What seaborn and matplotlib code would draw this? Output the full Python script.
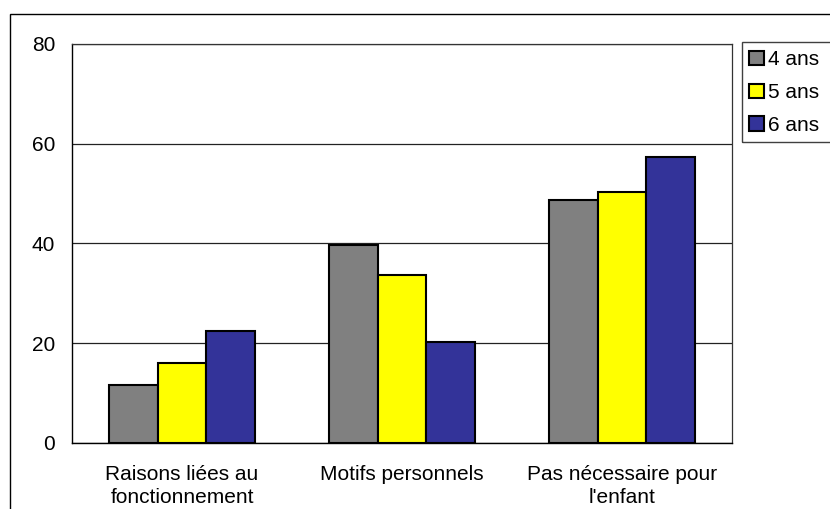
import matplotlib
matplotlib.use("Agg")
import matplotlib.pyplot as plt
from matplotlib.patches import Patch, Rectangle
import seaborn as sns
import pandas as pd

# Share of answers by reason and by child's age
categories = ["Raisons liées au\nfonctionnement", "Motifs personnels", "Pas nécessaire pour\nl'enfant"]
ages = ["4 ans", "5 ans", "6 ans"]
values_4 = [11.6, 39.7, 48.8]
values_5 = [16.1, 33.7, 50.4]
values_6 = [22.4, 20.3, 57.3]
y_ticks = [0, 20, 40, 60, 80]
colors = ["#808080", "#FFFF00", "#333399"]

df = pd.DataFrame({
    "categorie": categories * 3,
    "age": [a for a in ages for _ in categories],
    "valeur": values_4 + values_5 + values_6,
})

sns.set_style("white")
plt.rcParams["font.family"] = ["Liberation Sans", "DejaVu Sans"]
plt.rcParams["font.size"] = 15
plt.rcParams["text.color"] = "black"
plt.rcParams["xtick.color"] = "black"
plt.rcParams["ytick.color"] = "black"

fig = plt.figure(figsize=(8.3, 5.09), dpi=100)
ax = fig.add_axes([72 / 830, 1 - 443 / 509, 660 / 830, 399 / 509])

sns.barplot(
    data=df, x="categorie", y="valeur", hue="age", hue_order=ages,
    palette=colors, saturation=1, width=0.668, edgecolor="black",
    linewidth=1.5, legend=False, ax=ax,
)

ax.set_ylim(0, 80)
ax.set_xlim(-0.5, 2.5)
ax.set_yticks(y_ticks)
ax.set_xlabel("")
ax.set_ylabel("")
ax.yaxis.grid(True, color="#222222", linewidth=0.9)
ax.set_axisbelow(True)

# category boundary ticks on the x axis
ax.set_xticks([0, 1, 2])
ax.set_xticklabels(categories, fontsize=15, linespacing=1.25)
ax.set_xticks([-0.5, 0.5, 1.5, 2.5], minor=True)
ax.tick_params(axis="x", which="major", length=0, pad=16, labelcolor="black")
ax.tick_params(axis="x", which="minor", length=5, width=0.9, color="black")
ax.tick_params(axis="y", length=5, width=0.9, color="black", pad=7,
               labelsize=15, labelcolor="black")

for side in ["left", "bottom"]:
    ax.spines[side].set_color("black")
    ax.spines[side].set_linewidth(1.0)
for side in ["top", "right"]:
    ax.spines[side].set_visible(True)
    ax.spines[side].set_color("#333333")
    ax.spines[side].set_linewidth(0.9)

# legend
handles = [Patch(facecolor=c, edgecolor="black", linewidth=1.5) for c in colors]
fig.legend(
    handles, ages, loc="upper left",
    bbox_to_anchor=(739 / 830, 1 - 40 / 509), bbox_transform=fig.transFigure,
    frameon=False, borderpad=0, handlelength=0.68, handleheight=0.68,
    handletextpad=0.2, labelspacing=0.66, fontsize=15,
)
fig.patches.append(Rectangle(
    (742 / 830, 1 - 142 / 509), 0.2, 100 / 509, transform=fig.transFigure,
    fill=False, edgecolor="#404040", linewidth=1.0,
))

# outer chart frame
fig.patches.append(Rectangle(
    (10 / 830, -0.1), 1.2, 1 - 14 / 509 + 0.1, transform=fig.transFigure,
    fill=False, edgecolor="black", linewidth=1.0,
))

fig.savefig("out.png", dpi=100)
